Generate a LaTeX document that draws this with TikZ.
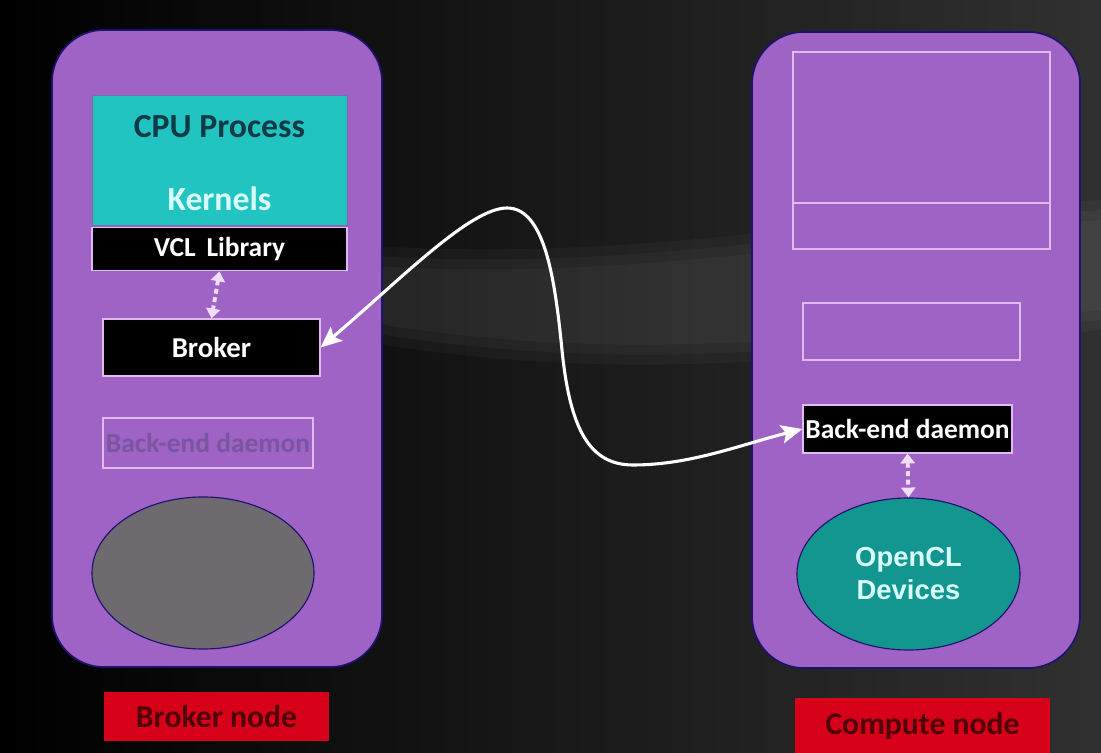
\documentclass[tikz,border=0pt]{standalone}
\usepackage{fontspec}
\setmainfont{Carlito}
\newfontfamily\arialfont{Liberation Sans}
\usepackage{tikz}
\usetikzlibrary{arrows,arrows.meta,positioning,shapes}
\usepackage{xcolor}

\definecolor{panelpurple}{RGB}{158,99,196}
\definecolor{paneledge}{RGB}{30,18,110}
\definecolor{cpucyan}{RGB}{34,196,194}
\definecolor{cputext}{RGB}{16,58,70}
\definecolor{kerntext}{RGB}{216,255,252}
\definecolor{lavender}{RGB}{226,186,242}
\definecolor{ghosttext}{RGB}{122,85,160}
\definecolor{devgray}{RGB}{110,106,112}
\definecolor{devteal}{RGB}{20,150,144}
\definecolor{tagred}{RGB}{214,0,24}
\definecolor{tagtext}{RGB}{80,0,8}

\begin{document}
\begin{tikzpicture}[x=0.025cm,y=-0.025cm]
	\tikzstyle{panel}
	  =[draw=paneledge, line width=1.2pt, fill=panelpurple,
	  rounded corners=1.3cm, inner sep=0pt]
	\tikzstyle{blackbox}
	  =[draw=lavender, line width=0.8pt, fill=black, text=white,
	  font=\bfseries\fontsize{19.5}{21}\selectfont, inner sep=0pt]
	\tikzstyle{emptybox}
	  =[draw=lavender, line width=1pt, inner sep=0pt]
	\tikzstyle{tag}
	  =[fill=tagred, text=tagtext, inner sep=0pt,
	  font=\bfseries\fontsize{22.5}{24}\selectfont]
	\tikzstyle{dev}
	  =[ellipse, draw=paneledge, line width=0.8pt, inner sep=0pt,
	  minimum height=3.8cm]
	\tikzstyle{dotlink}
	  =[draw=lavender!50!white, line width=2.8pt,
	  dash pattern=on 3.5pt off 2.5pt,
	  {Triangle[length=7pt,width=10pt]}-{Triangle[length=7pt,width=10pt]}]
	\tikzstyle{link}
	  =[draw=white, line width=2.2pt,
	  {Stealth[length=15pt,width=13pt,inset=3pt]}-{Stealth[length=15pt,width=13pt,inset=3pt]}]

	% background
	\useasboundingbox (0,0) rectangle (1101,753);
	\shade[left color=black, right color=gray!38!black]
	  (0,0) rectangle (1101,753);
	\foreach \w in {30,20,10}
	  \fill[white, opacity=0.03]
	    (300,270-\w) .. controls (600,300-\w) and (800,250-\w) .. (1101,230-\w)
	    -- (1101,300+\w) .. controls (800,330+\w) and (600,360+\w) .. (300,300+\w) -- cycle;

	% broker node
	\node[panel, minimum width=8.25cm, minimum height=15.925cm] (bpanel)
	  at (217,348.5) {};
	\node[fill=cpucyan, draw=paneledge!60, inner sep=0pt,
	  minimum width=6.375cm, minimum height=3.25cm] (cpu)
	  at (219.5,160) {};
	\node[text=cputext, font=\bfseries\fontsize{24}{26}\selectfont] (cputitle)
	  at (219.5,127) {CPU Process};
	\node[text=kerntext, font=\bfseries\fontsize{24}{26}\selectfont] (kernels)
	  at (219.5,199) {Kernels};
	\node[blackbox, minimum width=6.375cm, minimum height=1.075cm] (vcl)
	  [below=0.05cm of cpu] {VCL\, Library};
	\node[blackbox, minimum width=5.425cm, minimum height=1.425cm,
	  font=\bfseries\fontsize{20.5}{22}\selectfont] (broker)
	  at (211.5,347.5) {Broker};
	\node[emptybox, text=ghosttext, minimum width=5.25cm, minimum height=1.25cm,
	  font=\bfseries\fontsize{19.5}{21}\selectfont] (ghost)
	  at (208,443) {Back-end daemon};
	\node[dev, fill=devgray, minimum width=5.55cm] (gpu)
	  at (203,573) {};
	\node[tag, minimum width=5.625cm, minimum height=1.225cm] (btag)
	  at (216.5,716.5) {Broker node};

	% compute node
	\node[panel, minimum width=8.2cm, minimum height=15.9cm] (cpanel)
	  at (916,350) {};
	\node[emptybox, minimum width=6.425cm, minimum height=4.925cm] (host)
	  at (921.5,150.5) {};
	\draw[lavender, line width=1.6pt] (host.west |- 0,203) -- (host.east |- 0,203);
	\node[emptybox, minimum width=5.425cm, minimum height=1.425cm] (slot)
	  at (911.5,331.5) {};
	\node[blackbox, minimum width=5.225cm, minimum height=1.2cm] (bed)
	  at (907.5,429) {Back-end daemon};
	\node[dev, fill=devteal, minimum width=5.575cm, text=kerntext,
	  align=center, font=\arialfont\bfseries\fontsize{19.5}{23.5}\selectfont] (ocl)
	  at (908.5,574) {OpenCL\\Devices};
	\node[tag, minimum width=6.375cm, minimum height=1.375cm] (ctag)
	  at (922.5,725.5) {Compute node};

	% links
	\draw[dotlink] (vcl.south) -- (broker.north);
	\draw[dotlink] (bed.south) -- (ocl.north);
	\draw[link] (broker.east)
	  .. controls (400,280) and (470,208) .. (507,208)
	  .. controls (545,208) and (555,280) .. (562,350)
	  .. controls (570,430) and (590,465) .. (633,465)
	  .. controls (690,465) and (740,445) .. (bed.west);
\end{tikzpicture}
\end{document}
